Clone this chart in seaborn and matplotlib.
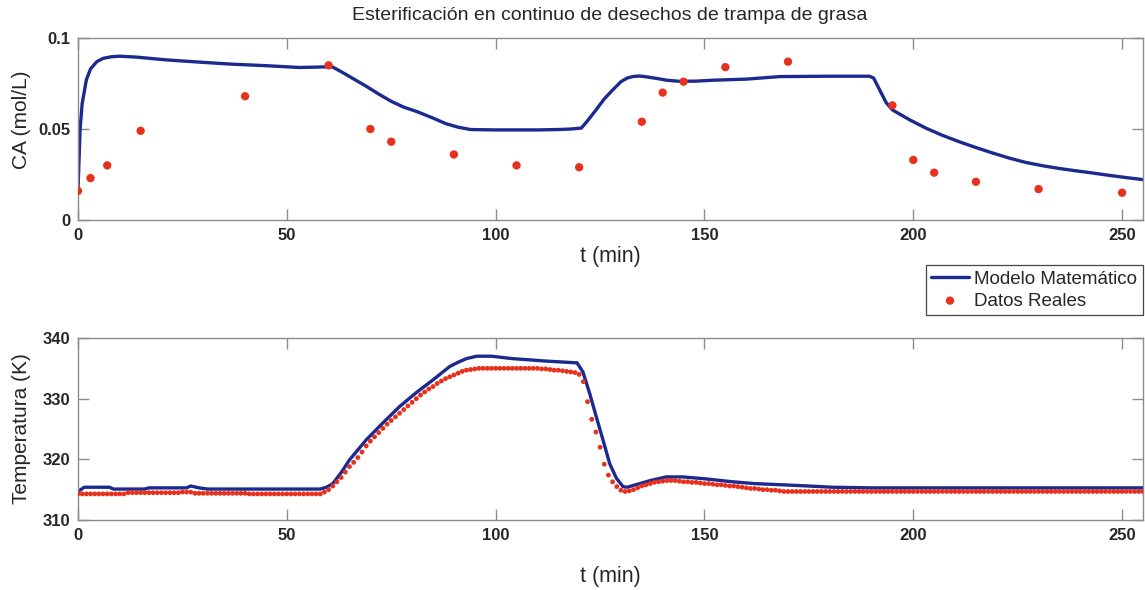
import numpy as np
import pandas as pd
import matplotlib
matplotlib.use("Agg")
import matplotlib.pyplot as plt
import seaborn as sns

# --- Concentración de A: modelo matemático ---
t_modelo_ca = [0, 0.5, 1, 2, 3, 4.5, 6, 8, 10, 14, 21, 30, 37, 45, 53, 57, 60, 61,
               63, 66, 69, 72, 75, 78, 81, 85, 88, 91, 94, 100, 110, 115, 118, 120.5,
               122, 124, 126, 128, 130, 131.5, 133, 134.5, 136, 138.5, 141, 144, 148,
               152, 160, 168, 180, 189.5, 190.5, 191.5, 193.5, 195, 199, 203, 207,
               211, 215, 219, 223, 227, 231, 235, 239, 243, 247, 251, 255]
ca_modelo = [0.0165, 0.050, 0.064, 0.077, 0.083, 0.087, 0.0888, 0.0897, 0.0900,
             0.0895, 0.0880, 0.0866, 0.0856, 0.0848, 0.0838, 0.0840, 0.0842, 0.0840,
             0.0815, 0.0775, 0.0735, 0.0692, 0.0652, 0.0620, 0.0597, 0.0560, 0.0530,
             0.0510, 0.0497, 0.0495, 0.0495, 0.0497, 0.0500, 0.0505, 0.0545, 0.0604,
             0.0665, 0.0714, 0.0760, 0.0780, 0.0789, 0.0791, 0.0787, 0.0778, 0.0768,
             0.0762, 0.0763, 0.0768, 0.0774, 0.0788, 0.0790, 0.0790, 0.0780, 0.0735,
             0.0645, 0.0605, 0.0552, 0.0505, 0.0465, 0.0430, 0.0398, 0.0368, 0.0340,
             0.0316, 0.0298, 0.0283, 0.0270, 0.0258, 0.0245, 0.0233, 0.0222]

# --- Concentración de A: datos experimentales ---
t_datos_ca = [0, 3, 7, 15, 40, 60, 70, 75, 90, 105, 120, 135, 140, 145, 155, 170,
              195, 200, 205, 215, 230, 250]
ca_datos = [0.016, 0.023, 0.030, 0.049, 0.068, 0.085, 0.050, 0.043, 0.036, 0.030,
            0.029, 0.054, 0.070, 0.076, 0.084, 0.087, 0.063, 0.033, 0.026, 0.021,
            0.017, 0.015]

# --- Temperatura: modelo matemático ---
t_modelo_temp = [0, 1.5, 7.5, 8.5, 16, 17, 26, 27, 29, 31, 58, 59.5, 61, 63, 65, 69,
                 73, 77, 81, 85, 89, 91, 93, 95.5, 99, 104, 112, 119.5, 120.9, 122.5,
                 124.1, 125.7, 127.3, 128.9, 130.5, 131.5, 133, 137, 140.8, 144.8, 150,
                 156.7, 162, 168.7, 175, 180.7, 190, 255]
temp_modelo = [314.7, 315.4, 315.4, 315.1, 315.1, 315.3, 315.3, 315.6, 315.3, 315.1,
               315.1, 315.4, 316.0, 317.8, 319.9, 323.2, 326.0, 328.7, 331.0, 333.1,
               335.3, 336.0, 336.6, 337.0, 337.0, 336.6, 336.2, 335.9, 334.4, 330.9,
               327.0, 323.2, 319.3, 316.9, 315.5, 315.4, 315.7, 316.5, 317.1, 317.1,
               316.8, 316.3, 316.0, 315.8, 315.6, 315.4, 315.3, 315.3]

# --- Temperatura: datos experimentales (una lectura por minuto, t = 0..255) ---
t_datos_temp = np.arange(0, 256)
temp_datos = [
    314.3, 314.3, 314.3, 314.3, 314.3, 314.3, 314.3, 314.3, 314.3, 314.3,  # 0
    314.3, 314.3, 314.5, 314.5, 314.5, 314.5, 314.5, 314.5, 314.5, 314.5,  # 10
    314.5, 314.5, 314.5, 314.5, 314.5, 314.6, 314.6, 314.6, 314.4, 314.4,  # 20
    314.4, 314.4, 314.4, 314.4, 314.4, 314.4, 314.4, 314.4, 314.4, 314.4,  # 30
    314.4, 314.3, 314.3, 314.3, 314.3, 314.3, 314.3, 314.3, 314.3, 314.3,  # 40
    314.3, 314.3, 314.3, 314.3, 314.3, 314.3, 314.3, 314.3, 314.3, 314.6,  # 50
    315.0, 315.6, 316.3, 317.0, 317.9, 318.8, 319.5, 320.3, 321.2, 322.2,  # 60
    323.0, 323.7, 324.4, 325.1, 325.8, 326.4, 327.0, 327.6, 328.2, 328.8,  # 70
    329.4, 330.0, 330.6, 331.1, 331.6, 332.0, 332.5, 332.9, 333.3, 333.6,  # 80
    333.9, 334.2, 334.5, 334.7, 334.8, 334.9, 335.0, 335.0, 335.0, 335.0,  # 90
    335.0, 335.0, 335.0, 335.0, 335.0, 335.0, 335.0, 335.0, 335.0, 335.0,  # 100
    335.0, 334.9, 334.9, 334.8, 334.7, 334.7, 334.6, 334.5, 334.4, 334.3,  # 110
    334.0, 332.8, 329.5, 326.6, 324.5, 322.0, 319.2, 317.4, 316.3, 315.5,  # 120
    314.9, 314.7, 314.8, 315.0, 315.3, 315.6, 315.8, 316.0, 316.2, 316.3,  # 130
    316.4, 316.5, 316.5, 316.5, 316.4, 316.3, 316.3, 316.2, 316.2, 316.1,  # 140
    316.0, 316.0, 315.9, 315.8, 315.8, 315.7, 315.6, 315.6, 315.5, 315.4,  # 150
    315.3, 315.2, 315.2, 315.1, 315.0, 315.0, 314.9, 314.9, 314.8, 314.7,  # 160
    314.7, 314.7, 314.7, 314.7, 314.7, 314.7, 314.7, 314.7, 314.7, 314.7,  # 170
    314.7, 314.7, 314.7, 314.7, 314.7, 314.7, 314.7, 314.7, 314.7, 314.7,  # 180
    314.7, 314.7, 314.7, 314.7, 314.7, 314.7, 314.7, 314.7, 314.7, 314.7,  # 190
    314.7, 314.7, 314.7, 314.7, 314.7, 314.7, 314.7, 314.7, 314.7, 314.7,  # 200
    314.7, 314.7, 314.7, 314.7, 314.7, 314.7, 314.7, 314.7, 314.7, 314.7,  # 210
    314.7, 314.7, 314.7, 314.7, 314.7, 314.7, 314.7, 314.7, 314.7, 314.7,  # 220
    314.7, 314.7, 314.7, 314.7, 314.7, 314.7, 314.7, 314.7, 314.7, 314.7,  # 230
    314.7, 314.7, 314.7, 314.7, 314.7, 314.7, 314.7, 314.7, 314.7, 314.7,  # 240
    314.7, 314.7, 314.7, 314.7, 314.7, 314.7,                              # 250
]

x_ticks = [0, 50, 100, 150, 200, 250]
ca_ticks = [0, 0.05, 0.1]
ca_tick_labels = ["0", "0.05", "0.1"]
temp_ticks = [310, 320, 330, 340]

titulo = "Esterificación en continuo de desechos de trampa de grasa"
etiqueta_modelo = "Modelo Matemático"
etiqueta_datos = "Datos Reales"

df_mod_ca = pd.DataFrame({"t": t_modelo_ca, "CA": ca_modelo})
df_dat_ca = pd.DataFrame({"t": t_datos_ca, "CA": ca_datos})
df_mod_T = pd.DataFrame({"t": t_modelo_temp, "T": temp_modelo})
df_dat_T = pd.DataFrame({"t": t_datos_temp, "T": temp_datos})

sns.set_theme(style="white")
plt.rcParams["font.family"] = ["Liberation Sans", "DejaVu Sans"]

AZUL = "#1b2a8f"
ROJO = "#e8311d"
GRIS = "#8c8c8c"
TEXTO = "#262626"

W, H = 1145, 590
fig = plt.figure(figsize=(W / 100, H / 100), dpi=100)
fig.patch.set_facecolor("white")
ax1 = fig.add_axes([78 / W, 1 - 220 / H, 1065 / W, 182 / H])
ax2 = fig.add_axes([78 / W, 1 - 520 / H, 1065 / W, 182 / H])

# Panel superior: concentración
sns.lineplot(data=df_mod_ca, x="t", y="CA", ax=ax1, color=AZUL, lw=2.4,
             label=etiqueta_modelo, errorbar=None, sort=False, zorder=2)
sns.scatterplot(data=df_dat_ca, x="t", y="CA", ax=ax1, color=ROJO, s=36,
                edgecolor="none", label=etiqueta_datos, zorder=3)

# Panel inferior: temperatura
sns.lineplot(data=df_mod_T, x="t", y="T", ax=ax2, color=AZUL, lw=2.4,
             errorbar=None, sort=False, zorder=2)
sns.scatterplot(data=df_dat_T, x="t", y="T", ax=ax2, color=ROJO, s=12,
                edgecolor="none", zorder=3)

handles, labels = ax1.get_legend_handles_labels()
if ax1.get_legend() is not None:
    ax1.get_legend().remove()

for ax in (ax1, ax2):
    ax.set_xlim(0, 255)
    ax.set_xticks(x_ticks)
    ax.set_xticklabels([str(v) for v in x_ticks], fontweight="bold")
    ax.tick_params(direction="in", length=7.6, width=1.0, color=GRIS,
                   bottom=True, left=True, top=True, right=True,
                   labelsize=12, pad=5.5, labelcolor=TEXTO)
    for sp in ax.spines.values():
        sp.set_color(GRIS)
        sp.set_linewidth(1.0)
    ax.set_facecolor("white")

ax1.set_ylim(0, 0.1)
ax1.set_yticks(ca_ticks)
ax1.set_yticklabels(ca_tick_labels, fontweight="bold")
ax2.set_ylim(310, 340)
ax2.set_yticks(temp_ticks)
ax2.set_yticklabels([str(v) for v in temp_ticks], fontweight="bold")

ax1.set_xlabel("t (min)", fontsize=15.5, color=TEXTO)
ax1.xaxis.set_label_coords(0.5, -0.143)
ax1.set_ylabel("CA (mol/L)", fontsize=15, color=TEXTO)
ax1.yaxis.set_label_coords(-0.044, 0.55)

ax2.set_xlabel("t (min)", fontsize=15.5, color=TEXTO)
ax2.xaxis.set_label_coords(0.5, -0.253)
ax2.set_ylabel("Temperatura (K)", fontsize=15, color=TEXTO)
ax2.yaxis.set_label_coords(-0.044, 0.5)

fig.text(610 / W, 1 - 16 / H, titulo, ha="center", va="center",
         fontsize=14, color=TEXTO)

leg = fig.legend(handles, labels, loc="upper right",
                 bbox_to_anchor=(1143 / W, 1 - 265 / H), fontsize=13.5,
                 frameon=True, fancybox=False, edgecolor="#444444",
                 framealpha=1, borderpad=0.3, labelspacing=0.25,
                 handlelength=2.0, handletextpad=0.3, borderaxespad=0)
leg.get_frame().set_linewidth(0.9)
for txt in leg.get_texts():
    txt.set_color(TEXTO)

fig.savefig("out.png", dpi=100, facecolor="white")
